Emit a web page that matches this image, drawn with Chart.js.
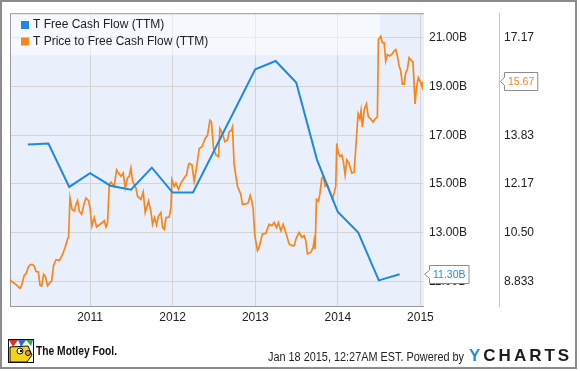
<!DOCTYPE html>
<html><head><meta charset="utf-8">
<script src="https://cdn.jsdelivr.net/npm/chart.js@4.4.1/dist/chart.umd.min.js"></script>
<style>html,body{margin:0;padding:0;background:#fff;}#wrap{width:580px;height:371px;position:relative;}</style>
</head><body><div id="wrap"><canvas id="c" width="580" height="371"></canvas></div>
<script>
const seriesNames = ['T Free Cash Flow (TTM)', 'T Price to Free Cash Flow (TTM)'];
// Free cash flow (billions), quarter ends as decimal years
const fcfDates = [2010.247,2010.496,2010.748,2011.000,2011.247,2011.496,2011.748,2012.000,2012.247,2013.000,2013.247,2013.496,2013.748,2014.000,2014.247,2014.496,2014.748];
const fcfValues = [16.62,16.66,14.88,15.44,14.93,14.77,15.67,14.65,14.65,19.70,20.04,19.16,15.99,13.85,13.01,11.05,11.30];
// Price to free cash flow
const pfcfDates = [
2010.031,2010.063,2010.104,2010.152,2010.172,2010.204,2010.225,2010.253,2010.277,2010.305,
2010.325,2010.346,2010.374,2010.394,2010.414,2010.438,2010.459,2010.486,2010.515,2010.535,
2010.559,2010.588,2010.607,2010.628,2010.648,2010.668,2010.697,2010.728,2010.740,2010.757,
2010.782,2010.809,2010.830,2010.849,2010.870,2010.898,2010.930,2010.951,2010.982,2010.999,
2011.023,2011.051,2011.079,2011.120,2011.152,2011.172,2011.193,2011.212,2011.233,2011.253,
2011.293,2011.321,2011.345,2011.374,2011.402,2011.426,2011.454,2011.475,2011.495,2011.515,
2011.556,2011.575,2011.616,2011.644,2011.668,2011.708,2011.737,2011.757,2011.781,2011.805,
2011.829,2011.858,2011.878,2011.898,2011.919,2011.959,2011.979,2011.991,2012.019,2012.040,
2012.071,2012.100,2012.140,2012.168,2012.192,2012.201,2012.233,2012.261,2012.289,2012.322,
2012.354,2012.394,2012.422,2012.451,2012.470,2012.495,2012.524,2012.555,2012.572,2012.603,
2012.632,2012.664,2012.684,2012.712,2012.724,2012.745,2012.785,2012.826,2012.845,2012.887,
2012.914,2012.939,2012.959,2012.975,2012.995,2013.027,2013.047,2013.087,2013.128,2013.168,
2013.201,2013.229,2013.257,2013.281,2013.310,2013.338,2013.370,2013.410,2013.443,2013.471,
2013.499,2013.531,2013.564,2013.592,2013.612,2013.632,2013.673,2013.701,2013.713,2013.725,
2013.741,2013.765,2013.782,2013.806,2013.825,2013.846,2013.874,2013.894,2013.915,2013.934,
2013.955,2013.975,2013.987,2014.007,2014.027,2014.048,2014.067,2014.088,2014.108,2014.136,
2014.169,2014.197,2014.225,2014.245,2014.266,2014.281,2014.297,2014.321,2014.346,2014.370,
2014.399,2014.427,2014.451,2014.479,2014.491,2014.520,2014.539,2014.560,2014.580,2014.600,
2014.629,2014.653,2014.681,2014.701,2014.721,2014.741,2014.762,2014.781,2014.802,2014.822,
2014.842,2014.862,2014.895,2014.910,2014.935,2014.950,2014.974,2015.003,2015.022,2015.031];
const pfcfValues = [
8.90,8.81,8.73,8.60,8.71,9.05,9.10,9.33,9.41,9.41,
9.36,9.18,9.16,8.71,8.68,9.08,9.01,8.69,8.80,8.85,
9.39,9.58,9.58,9.55,9.66,9.76,10.00,10.29,10.34,11.69,
11.30,11.24,11.47,11.60,11.24,11.13,11.52,11.69,11.60,11.35,
10.74,11.02,10.70,10.79,10.85,10.91,10.70,10.85,12.14,12.23,
12.09,12.65,12.54,12.43,12.54,12.03,12.37,12.43,12.71,12.26,
12.03,11.75,11.64,11.89,11.19,11.58,11.24,10.79,11.02,10.77,
11.07,11.19,10.68,10.62,11.02,11.04,11.35,12.31,12.09,12.20,
11.98,12.20,12.37,12.48,12.82,12.87,12.82,12.26,12.71,13.38,
13.44,13.72,13.83,14.34,14.28,13.38,13.16,13.10,14.06,13.89,
13.61,13.67,13.95,14.00,14.11,12.82,12.09,11.81,11.47,11.49,
11.52,11.77,11.58,11.30,10.40,9.89,10.00,10.46,10.48,10.79,
10.74,10.85,10.68,10.85,10.57,10.79,10.51,10.12,10.06,10.06,
10.34,10.51,10.34,10.40,10.23,9.78,9.83,10.00,10.23,9.95,
11.64,11.58,11.81,12.37,12.43,12.09,12.14,11.98,11.81,11.64,
11.86,12.09,13.55,13.21,13.10,13.16,12.93,12.48,12.99,12.87,
12.54,12.57,13.72,14.56,14.39,14.68,14.11,14.73,14.90,14.45,
14.39,14.28,14.39,14.45,17.10,17.21,16.99,16.99,16.37,16.59,
16.54,16.59,16.71,16.76,16.54,16.20,16.03,15.58,15.58,15.97,
16.08,16.48,16.37,16.33,14.90,15.41,15.80,15.63,15.47,15.67];
const xTicks = [2011,2012,2013,2014,2015];
const leftTicks = [11,13,15,17,19,21];
const leftTickLabels = ['11.00B','13.00B','15.00B','17.00B','19.00B','21.00B'];
const rightTicks = [8.833,10.5,12.167,13.833,15.5,17.167];
const rightTickLabels = ['8.833','10.50','12.17','13.83','15.50','17.17'];
const fcfLastLabel = '11.30B';
const pfcfLastLabel = '15.67';
const footerText = 'Jan 18 2015, 12:27AM EST. Powered by';
const brandText = 'The Motley Fool.';
const logoText = 'YCHARTS';

const FONT = '"Liberation Sans", Arial, sans-serif';
const BLUE = '#1e88e5', ORANGE = '#fb8518';

function pts(xs, ys){ return xs.map((x,i)=>({x:x, y:ys[i]})); }

function valueBox(ctx, tipX, y, boxLeft, text, color){
  ctx.font = '10.5px ' + FONT;
  const w = ctx.measureText(text).width + 7, h = 18;
  const t = Math.round(y - h/2) + 0.5, b = t + h;
  const l = boxLeft + 0.5;
  ctx.beginPath();
  ctx.moveTo(tipX + 0.5, y);
  ctx.lineTo(l, y - 4);
  ctx.lineTo(l, t); ctx.lineTo(l + w, t); ctx.lineTo(l + w, b); ctx.lineTo(l, b);
  ctx.lineTo(l, y + 4); ctx.closePath();
  ctx.fillStyle = '#fff'; ctx.fill();
  ctx.strokeStyle = '#8c8c8c'; ctx.lineWidth = 1; ctx.stroke();
  ctx.fillStyle = color; ctx.textAlign = 'left'; ctx.textBaseline = 'middle';
  ctx.fillText(text, l + 3.5, y + 0.5);
}

function drawFool(ctx){
  ctx.save();
  ctx.fillStyle = '#fff'; ctx.fillRect(8,339,26,24);
  ctx.strokeStyle = '#111'; ctx.lineWidth = 1;
  ctx.strokeRect(8.5,339.5,25,23);
  ctx.fillStyle = '#d9332a'; ctx.beginPath(); ctx.moveTo(9,340); ctx.lineTo(18,340); ctx.lineTo(13,347); ctx.closePath(); ctx.fill();
  ctx.fillStyle = '#2b6fd1'; ctx.beginPath(); ctx.moveTo(18,340); ctx.lineTo(26,340); ctx.lineTo(21,347); ctx.closePath(); ctx.fill();
  ctx.fillStyle = '#2fa84f'; ctx.beginPath(); ctx.moveTo(26,340); ctx.lineTo(33,340); ctx.lineTo(31,346); ctx.closePath(); ctx.fill();
  ctx.fillStyle = '#f3d31c'; ctx.beginPath(); ctx.moveTo(10,347); ctx.lineTo(28,346); ctx.lineTo(32,355); ctx.lineTo(27,362); ctx.lineTo(10,362); ctx.closePath(); ctx.fill(); ctx.stroke();
  ctx.fillStyle = '#fff'; ctx.beginPath(); ctx.arc(20,351,3,0,Math.PI*2); ctx.fill(); ctx.stroke();
  ctx.fillStyle = '#111'; ctx.beginPath(); ctx.arc(21,351,1.2,0,Math.PI*2); ctx.fill();
  ctx.fillStyle = '#f0a030'; ctx.beginPath(); ctx.arc(28,353,2.5,0,Math.PI*2); ctx.fill(); ctx.stroke();
  ctx.restore();
}

const framePlugin = {
  id: 'frame',
  beforeDraw(chart){
    const ctx = chart.ctx, a = chart.chartArea;
    ctx.save();
    ctx.fillStyle = '#fff'; ctx.fillRect(0,0,chart.width,chart.height);
    ctx.fillStyle = '#eaf0fb'; ctx.fillRect(a.left, a.top, a.right - a.left + 1, a.bottom - a.top);
    ctx.restore();
  },
  beforeDatasetsDraw(chart){
    const ctx = chart.ctx, a = chart.chartArea;
    ctx.save();
    ctx.fillStyle = 'rgba(255,255,255,0.5)';
    ctx.fillRect(a.left, a.top, 370, 42);
    ctx.strokeStyle = '#9a9a9a'; ctx.lineWidth = 1;
    ctx.beginPath();
    ctx.moveTo(a.left + 0.5, a.bottom); ctx.lineTo(a.left + 0.5, a.top + 0.5); ctx.lineTo(a.right + 1, a.top + 0.5);
    ctx.stroke();
    ctx.restore();
  },
  afterDraw(chart){
    const ctx = chart.ctx, a = chart.chartArea;
    ctx.save();
    const cols = [BLUE, ORANGE];
    ctx.font = '12px ' + FONT; ctx.textAlign = 'left'; ctx.textBaseline = 'middle';
    seriesNames.forEach((n,i)=>{
      const cy = 25 + i*16.5;
      ctx.fillStyle = cols[i]; ctx.fillRect(21, cy - 4, 8, 8);
      ctx.fillStyle = '#222'; ctx.fillText(n, 33, cy);
    });
    const ys = chart.scales.y, ys1 = chart.scales.y1;
    valueBox(ctx, a.right + 1, ys.getPixelForValue(fcfValues[fcfValues.length-1]), a.right + 6, fcfLastLabel, '#2a8ce2');
    valueBox(ctx, ys1.left + 1, ys1.getPixelForValue(pfcfValues[pfcfValues.length-1]), ys1.left + 5, pfcfLastLabel, ORANGE);
    drawFool(ctx);
    ctx.fillStyle = '#111'; ctx.font = 'bold 13px ' + FONT; ctx.textBaseline = 'middle';
    ctx.fillText(brandText, 36, 351, 81);
    ctx.fillStyle = '#222'; ctx.font = '12px ' + FONT;
    ctx.fillText(footerText, 268, 358, 196);
    ctx.font = 'bold 17px ' + FONT;
    let x = 469;
    logoText.split('').forEach((ch,i)=>{
      ctx.fillStyle = i === 0 ? '#2a8fe0' : '#1c1c1c';
      ctx.fillText(ch, x, 356.5);
      x += ctx.measureText(ch).width + 3;
    });
    ctx.strokeStyle = '#8c8c8c'; ctx.lineWidth = 2;
    ctx.strokeRect(1, 1, 575, 367);
    ctx.restore();
  }
};

new Chart(document.getElementById('c'), {
  type: 'line',
  data: {
    datasets: [
      { label: seriesNames[0], data: pts(fcfDates, fcfValues), yAxisID: 'y', borderColor: BLUE, borderWidth: 2, pointRadius: 0, tension: 0, fill: false },
      { label: seriesNames[1], data: pts(pfcfDates, pfcfValues), yAxisID: 'y1', borderColor: ORANGE, borderWidth: 1.7, pointRadius: 0, tension: 0, fill: false }
    ]
  },
  options: {
    responsive: false, animation: false, devicePixelRatio: 1,
    layout: { padding: { left: 10, top: 10, right: 0, bottom: 43 } },
    plugins: { legend: { display: false }, tooltip: { enabled: false } },
    scales: {
      x: {
        type: 'linear', min: 2010.031, max: 2015.031,
        afterBuildTicks: s => { s.ticks = xTicks.map(v => ({ value: v })); },
        afterFit: s => { s.height = 22; },
        grid: { color: '#d4d4d4', drawTicks: false },
        border: { display: true, color: '#9a9a9a' },
        ticks: { padding: 4, color: '#222', font: { family: FONT, size: 12 }, maxRotation: 0, autoSkip: false, callback: v => String(v) }
      },
      y: {
        position: 'right', weight: 0, min: 10, max: 22,
        afterBuildTicks: s => { s.ticks = leftTicks.map(v => ({ value: v })); },
        afterFit: s => { s.width = 76; },
        grid: { color: '#d4d4d4', drawTicks: false },
        border: { display: false },
        ticks: { padding: 6, color: '#222', font: { family: FONT, size: 12 }, autoSkip: false, callback: (v, i) => leftTickLabels[i] }
      },
      y1: {
        position: 'right', weight: 1, min: 8, max: 18,
        afterBuildTicks: s => { s.ticks = rightTicks.map(v => ({ value: v })); },
        afterFit: s => { s.width = 81; },
        grid: { drawOnChartArea: false, drawTicks: false },
        border: { display: true, color: '#c4c4c4' },
        ticks: { padding: 5, color: '#222', font: { family: FONT, size: 12 }, autoSkip: false, callback: (v, i) => rightTickLabels[i] }
      }
    }
  },
  plugins: [framePlugin]
});
</script>
</body></html>
